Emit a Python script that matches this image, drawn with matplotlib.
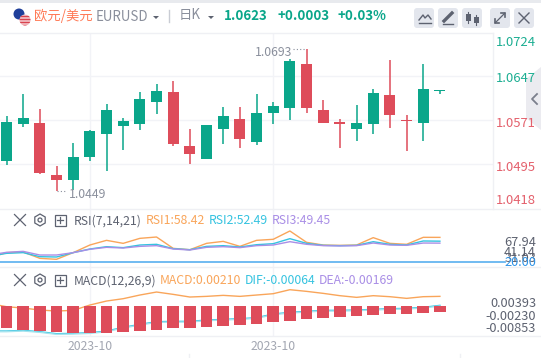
import numpy as np
import matplotlib
matplotlib.use('Agg')
import matplotlib.pyplot as plt
from matplotlib.patches import Circle, FancyBboxPatch, Polygon, RegularPolygon, Rectangle

plt.rcParams['font.family'] = ['Noto Sans CJK SC', 'DejaVu Sans']

# daily candles
opens = [1.0500, 1.0564, 1.0566, 1.0476, 1.0467, 1.0507, 1.0547, 1.0561, 1.0564, 1.0602, 1.0619, 1.0526,
         1.0504, 1.0555, 1.0573, 1.0533, 1.0583, 1.0592, 1.0668, 1.0588, 1.0568, 1.0555, 1.0564, 1.0614, 1.0571, 1.0566, 1.0621]
closes = [1.0568, 1.0574, 1.0479, 1.0467, 1.0507, 1.0552, 1.0588, 1.0569, 1.0607, 1.0621, 1.0530, 1.0512,
          1.0562, 1.0578, 1.0538, 1.0583, 1.0595, 1.0673, 1.0592, 1.0566, 1.0564, 1.0566, 1.0618, 1.0580, 1.0569, 1.0625, 1.0623]
highs = [1.0578, 1.0616, 1.0590, 1.0492, 1.0531, 1.0553, 1.0599, 1.0574, 1.0619, 1.0633, 1.0638, 1.0555,
         1.0562, 1.0593, 1.0593, 1.0616, 1.0602, 1.0676, 1.0693, 1.0606, 1.0573, 1.0597, 1.0625, 1.0675, 1.0580, 1.0668, 1.0623]
lows = [1.0493, 1.0559, 1.0478, 1.0449, 1.0450, 1.0500, 1.0483, 1.0519, 1.0554, 1.0581, 1.0526, 1.0495,
        1.0504, 1.0530, 1.0523, 1.0528, 1.0564, 1.0571, 1.0583, 1.0566, 1.0523, 1.0535, 1.0547, 1.0557, 1.0517, 1.0535, 1.0616]
price_ticks = [1.0647, 1.0571, 1.0495]

# first point of each indicator sits just left of the window
rsi1 = [27.0, 34.6, 35.6, 25.7, 24.2, 34.6, 46.5, 53.8, 49.1, 56.9, 59.0, 41.3, 39.2, 49.1, 52.2, 44.4, 53.8, 55.4,
        68.4, 50.7, 46.5, 46.0, 46.5, 58.0, 49.1, 47.6, 58.5, 58.42]
rsi2 = [29.0, 33.5, 34.6, 28.3, 27.8, 34.6, 40.3, 43.9, 42.4, 46.5, 47.6, 40.8, 39.2, 44.4, 45.5, 43.4, 47.0, 48.6,
        56.4, 49.1, 46.0, 45.5, 46.0, 51.7, 47.6, 46.5, 52.8, 52.49]
rsi3 = [31.0, 35.1, 36.6, 30.9, 30.9, 34.6, 39.8, 42.9, 41.8, 44.4, 45.5, 40.3, 38.7, 42.9, 43.9, 42.4, 45.5, 46.5,
        51.7, 47.6, 45.5, 45.0, 45.5, 49.6, 46.5, 46.0, 49.6, 49.45]
rsi_base = 20.00

macd_line = [0.00300, 0.00150, 0.00085, -0.00012, -0.00061, -0.00028, 0.00231, 0.00425, 0.00539, 0.00717, 0.00863,
             0.00749, 0.00620, 0.00652, 0.00701, 0.00652, 0.00717, 0.00782, 0.00976, 0.00895, 0.00798, 0.00685,
             0.00604, 0.00685, 0.00636, 0.00555, 0.00636, 0.00652]
dif_line = [-0.01033, -0.01033, -0.01000, -0.01065, -0.01162, -0.01146, -0.01114, -0.01033, -0.00854, -0.00709,
            -0.00579, -0.00563, -0.00563, -0.00498, -0.00466, -0.00433, -0.00385, -0.00206, -0.00125, -0.00077,
            -0.00028, -0.00028, -0.00012, 0.00020, 0.00053, 0.00069, 0.00118, 0.00215]
dea_line = [-0.01065, -0.01065, -0.01032, -0.01097, -0.01194, -0.01178, -0.01146, -0.01065, -0.00886, -0.00741,
            -0.00611, -0.00595, -0.00595, -0.00530, -0.00498, -0.00465, -0.00417, -0.00238, -0.00157, -0.00109,
            -0.00060, -0.00060, -0.00044, -0.00012, 0.00021, 0.00037, 0.00086, 0.00183]
hist_base = 0.00182
hist_low = [-0.00887, -0.00984, -0.01033, -0.01097, -0.01146, -0.01130, -0.01130, -0.01081, -0.01033, -0.00984,
            -0.00887, -0.00887, -0.00838, -0.00790, -0.00741, -0.00692, -0.00595, -0.00547, -0.00449, -0.00401,
            -0.00352, -0.00304, -0.00255, -0.00206, -0.00206, -0.00158, -0.00109]
macd_ticks = [0.00393, -0.00230, -0.00853]
macd_tick_labels = ['0.00393', '-0.00230', '-0.00853']
date_idx = [5, 16]
date_labels = ['2023-10', '2023-10']

GREEN = '#0aa68a'
RED = '#de4c5a'
GRID = '#f2f3f7'
ORANGE = '#f9a55a'
CYAN = '#35c3e0'
PURPLE = '#a98ee6'
GREY = '#8a8f9c'
DARK = '#5d6270'

W, H = 541, 358
step = 16.67
x0 = 6.5
idx = np.arange(len(opens))
idx_ind = np.arange(-1, len(opens))


def panel(top, bottom, right):
    ax = fig.add_axes([0, 1 - bottom / H, right / W, (bottom - top) / H])
    ax.set_xlim(-x0 / step, (right - x0) / step)
    for s in ax.spines.values():
        s.set_visible(False)
    ax.set_yticks([])
    ax.set_xticks(date_idx)
    ax.tick_params(length=0, labelbottom=False)
    ax.grid(axis='x', color=GRID, lw=1)
    ax.set_axisbelow(True)
    return ax


fig = plt.figure(figsize=(W / 100, H / 100), dpi=100, facecolor='white')

# candles
ax = panel(33, 209, 493)
ax.set_ylim(1.04173, 1.07212)
ax.set_yticks(price_ticks)
ax.tick_params(labelleft=False, left=False)
ax.grid(axis='y', color=GRID, lw=1)
for i in idx:
    col = GREEN if closes[i] >= opens[i] else RED
    ax.vlines(i, lows[i], highs[i], color=col, lw=1.1, zorder=2)
    lo, hi = sorted((opens[i], closes[i]))
    ax.bar(i, max(hi - lo, 0.00006), bottom=lo, width=0.66, color=col, zorder=3)

# RSI
ax2 = panel(209, 267, W)
ax2.set_ylim(12.2, 102.7)
ax2.plot(idx_ind, rsi1, color=ORANGE, lw=1, zorder=3)
ax2.plot(idx_ind, rsi2, color=CYAN, lw=1, zorder=3)
ax2.plot(idx_ind, rsi3, color=PURPLE, lw=1, zorder=3)
ax2.axhline(rsi_base, xmax=505 / W, color='#64b5f0', lw=1.3)

# MACD
ax3 = panel(267, 336, W)
ax3.set_ylim(-0.01274, 0.02079)
ax3.plot(idx_ind, macd_line, color=ORANGE, lw=1, zorder=2)
ax3.plot(idx_ind, dif_line, color=CYAN, lw=1, zorder=2)
ax3.plot(idx_ind, dea_line, color='#a5e3ee', lw=1, zorder=2)
ax3.bar(idx, np.array(hist_low) - hist_base, bottom=hist_base, width=0.71, color=RED, zorder=3)
ax3.yaxis.tick_right()
ax3.set_yticks(macd_ticks)
ax3.set_yticklabels(macd_tick_labels, ha='right', color=DARK, fontsize=9.2)
ax3.tick_params(axis='y', length=0, pad=-3.5)

# bottom strip with the dates
ax4 = panel(336, 358, W)
ax4.set_ylim(0, 1)
ax4.tick_params(labelbottom=True, pad=-13, labelsize=8.8, labelcolor='#a3a7b2')
ax4.set_xticklabels(date_labels)
ax4.grid(False)

# header, labels and icons, in pixels of the picture
ui = fig.add_axes([0, 0, 1, 1], zorder=10)
ui.set_xlim(0, W)
ui.set_ylim(H, 0)
ui.axis('off')
ui.patch.set_alpha(0)

ui.add_patch(Rectangle((0, 0), W, 3, color='#e8eaee', lw=0))
ui.plot([0, 493], [33, 33], color='#eff0f4', lw=1)
for y in [209, 267, 336]:
    ui.plot([0, W], [y, y], color='#eff0f4', lw=1)
ui.plot([493, 493], [33, 209], color='#eff0f4', lw=1)
for x in [189, 460]:
    ui.plot([x, x], [354, 358], color='#eff0f4', lw=1)
ui.add_patch(Polygon([(526, 79), (541, 67), (541, 130), (526, 118)], color='#ebebf0', lw=0))
ui.plot([537, 532, 537], [94, 99, 104], color='#7b7f8c', lw=1.3)

# flags
ui.add_patch(Circle((19, 14), 5.5, color='#1f3f9a', lw=0))
us = Circle((25, 20), 5.5, color='#f4c9cd', lw=0)
ui.add_patch(us)
for y in [16, 19, 22, 25]:
    ln, = ui.plot([19, 31], [y, y], color='#d9434f', lw=1)
    ln.set_clip_path(us)

ui.text(34, 15.5, '欧元/美元', color='#ff7a56', fontsize=9.6, va='center')
ui.text(96, 17, 'EURUSD', color=GREY, fontsize=9.6, va='center')
ui.add_patch(Polygon([(153, 16), (159, 16), (156, 19)], color=DARK, lw=0))
ui.plot([169, 169], [10, 22], color='#c9ccd4', lw=1)
ui.text(179, 15.5, '日K', color=GREY, fontsize=9.6, va='center')
ui.add_patch(Polygon([(208, 16), (214, 16), (211, 19)], color=DARK, lw=0))
ui.text(224, 16, '1.0623', color=GREEN, fontsize=9.6, fontweight='bold', va='center')
ui.text(277, 16, '+0.0003', color=GREEN, fontsize=9.6, fontweight='bold', va='center')
ui.text(338, 16, '+0.03%', color=GREEN, fontsize=9.6, fontweight='bold', va='center')

# toolbar buttons
for bx in [414, 438, 462, 490, 514]:
    ui.add_patch(FancyBboxPatch((bx + 2, 10), 16, 16, boxstyle='round,pad=2,rounding_size=3', fc='#e3e6ed', ec='none'))
ui.plot([419, 423, 425, 428, 431], [20, 15, 18, 15, 19], color=DARK, lw=1)
ui.plot([419, 431], [23, 23], color=DARK, lw=1)
ui.plot([444, 452], [21, 13], color=DARK, lw=2.4)
ui.plot([443, 453], [24, 24], color=DARK, lw=1)
for cx, a, b in [(468, 13, 22), (476, 16, 24)]:
    ui.plot([cx, cx], [a - 1, b + 1], color=DARK, lw=0.8)
    ui.add_patch(Rectangle((cx - 2.5, a + 1), 5, b - a - 2, color=DARK, lw=0))
ui.plot([495, 505], [23, 13], color=DARK, lw=0.9)
ui.plot([501, 505, 505], [13, 13, 17], color=DARK, lw=1.2)
ui.plot([495, 495, 499], [19, 23, 23], color=DARK, lw=1.2)
ui.plot([519, 529], [13, 23], color=DARK, lw=1)
ui.plot([519, 529], [23, 13], color=DARK, lw=1)

# price labels
for y, s, c in [(42.5, '1.0724', '#1cae92'), (78.5, '1.0647', '#1cae92'), (123.5, '1.0571', '#e4606c'),
                (167.5, '1.0495', '#e4606c'), (200.5, '1.0418', '#e4606c')]:
    ui.text(536, y, s, color=c, fontsize=9.4, ha='right', va='center')
ui.text(255, 53, '1.0693', color=GREY, fontsize=8.8, va='center')
ui.plot([293, 306], [49, 49], color=GREY, lw=0.8, ls=(0, (1, 2)))
ui.text(69, 195, '1.0449', color=GREY, fontsize=8.8, va='center')
ui.plot([57, 67], [191, 191], color=GREY, lw=0.8, ls=(0, (1, 2)))

# indicator rows
for y in [220, 280]:
    ui.plot([14.5, 25.5], [y - 5.5, y + 5.5], color=DARK, lw=0.9)
    ui.plot([14.5, 25.5], [y + 5.5, y - 5.5], color=DARK, lw=0.9)
    ui.add_patch(RegularPolygon((40, y), 6, radius=6, fc='none', ec=DARK, lw=0.9))
    ui.add_patch(Circle((40, y), 2, fc='none', ec=DARK, lw=0.9))
    ui.add_patch(Rectangle((54.5, y - 5.5), 11, 11, fc='none', ec=DARK, lw=0.9))
    ui.plot([57, 63], [y, y], color=DARK, lw=0.9)
    ui.plot([60, 60], [y - 3, y + 3], color=DARK, lw=0.9)

for x, s, c in [(74, 'RSI(7,14,21)', DARK), (146, 'RSI1:58.42', ORANGE), (209, 'RSI2:52.49', CYAN), (272, 'RSI3:49.45', PURPLE)]:
    ui.text(x, 221, s, color=c, fontsize=8.8, va='center')
for x, s, c in [(74, 'MACD(12,26,9)', DARK), (160, 'MACD:0.00210', ORANGE), (245, 'DIF:-0.00064', CYAN), (319, 'DEA:-0.00169', PURPLE)]:
    ui.text(x, 281, s, color=c, fontsize=8.8, va='center')

# the rsi axis labels pile up on each other in the original
for y, s, c in [(243, '67.94', DARK), (253, '41.14', DARK), (258, '31.03', DARK), (263, '20.00', '#2f93e6')]:
    ui.text(536, y, s, color=c, fontsize=9.2, ha='right', va='center')

fig.savefig('out.png', dpi=100)
